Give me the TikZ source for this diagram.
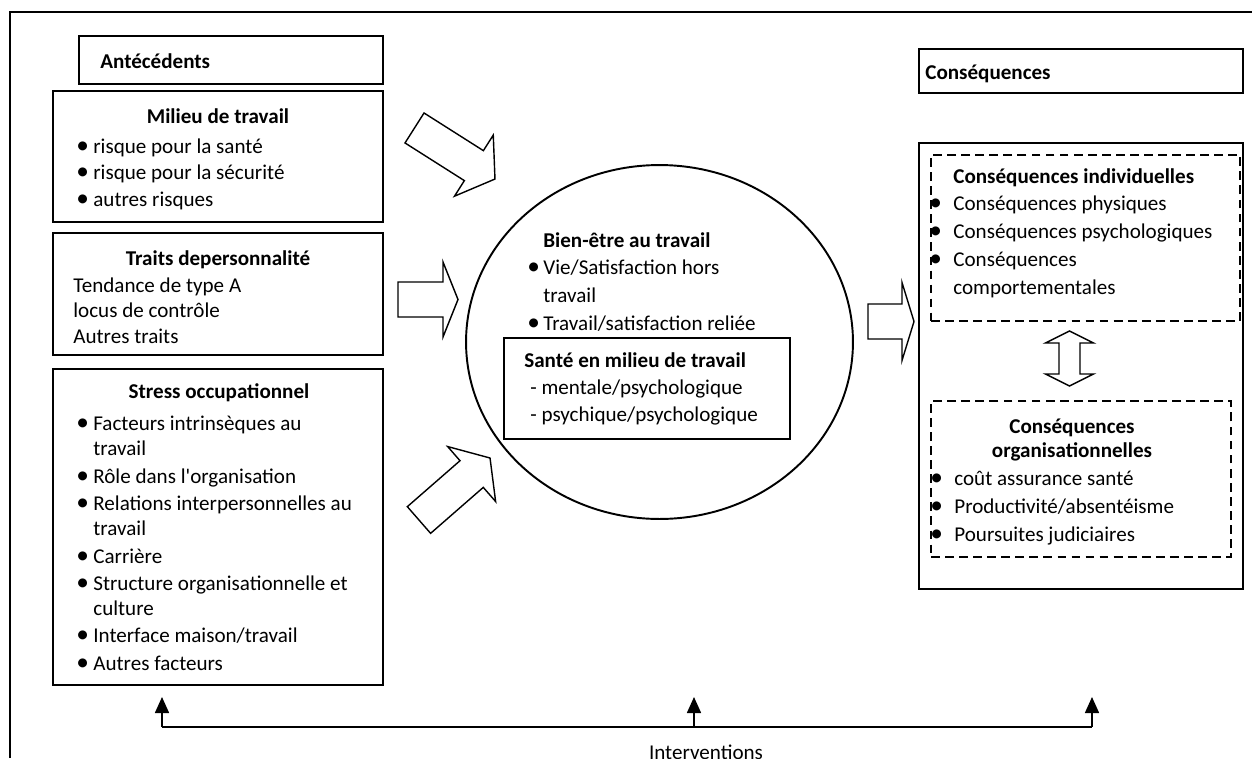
\documentclass[tikz,border=0pt]{standalone}
\usepackage{fontspec}
\setmainfont{Carlito}[Ligatures=TeXOff]
\usetikzlibrary{arrows.meta, fit, shapes.geometric}

\newcommand{\blt}{\makebox[0.34cm][l]{\scalebox{1.2}{\textbullet}}}
\newcommand{\bltr}{\makebox[0.48cm][l]{\scalebox{1.2}{\textbullet}}}

\begin{document}
\begin{tikzpicture}[
    x=0.02cm,
    y=-0.02cm,
    font=\fontsize{12}{14.5}\selectfont,
    box/.style={
      draw,
      line width=1.1pt,
      inner sep=0pt
    },
    dashbox/.style={
      draw,
      line width=0.9pt,
      dash pattern=on 5pt off 3pt,
      inner sep=0pt
    },
    title/.style={
      font=\fontsize{12}{14.5}\selectfont\bfseries,
      inner sep=0pt,
      anchor=base
    },
    txt/.style={
      inner sep=0pt,
      align=left,
      anchor=north west,
      yshift=10.15pt
    },
    bigarrow/.style={
      draw,
      line width=0.8pt,
      fill=white,
      line join=miter
    },
    pics/blockarrow/.style args={#1/#2/#3/#4}{
      code={
        \draw[bigarrow] ({-#1/2},{-#2/2}) -- ({#1/2-#4},{-#2/2})
          -- ({#1/2-#4},{-#3/2}) -- ({#1/2},0) -- ({#1/2-#4},{#3/2})
          -- ({#1/2-#4},{#2/2}) -- ({-#1/2},{#2/2}) -- cycle;
      }
    },
    pics/twoway/.style args={#1/#2/#3/#4}{
      code={
        \draw[bigarrow] ({-#1/2},0) -- ({-#1/2+#4},{#3/2}) -- ({-#1/2+#4},{#2/2})
          -- ({#1/2-#4},{#2/2}) -- ({#1/2-#4},{#3/2}) -- ({#1/2},0)
          -- ({#1/2-#4},{-#3/2}) -- ({#1/2-#4},{-#2/2}) -- ({-#1/2+#4},{-#2/2})
          -- ({-#1/2+#4},{-#3/2}) -- cycle;
      }
    },
    ivline/.style={
      line width=1.1pt
    },
    ivarrow/.style={
      -{Triangle[length=0.32cm, width=0.28cm]},
      line width=0.9pt
    }
  ]

    \useasboundingbox (0,0) rectangle (1252,758);

    % cadre
    \draw[line width=1.1pt] (10,758) |- (1252,12);

    % Antecedents
    \node[box, fit={(79,36) (383,84)}] (ante) {};
    \node[title, anchor=base west] (anteT) at (100,68) {Antécédents};

    \node[box, fit={(53,91) (383,222)}] (milieu) {};
    \node[title] (milieuT) at (218,123) {Milieu de travail};
    \node[txt] (milieuL) at (76,153) {\strut\blt risque pour la santé\\[0.5pt]
      \blt risque pour la sécurité\\[0.5pt]
      \blt autres risques};

    \node[box, fit={(53,233) (383,355)}] (traits) {};
    \node[title] (traitsT) at (218,265) {Traits depersonnalité};
    \node[txt] (traitsL) at (73,292) {\strut Tendance de type A\\
      locus de contrôle\\
      Autres traits};

    \node[box, fit={(53,369) (383,685)}] (stress) {};
    \node[title] (stressT) at (219,398) {Stress occupationnel};
    \node[txt] (stressL) at (76,430) {\strut\blt Facteurs intrinsèques au\\
      \hspace*{0.34cm}travail\\[1pt]
      \blt Rôle dans l'organisation\\[1pt]
      \blt Relations interpersonnelles au\\
      \hspace*{0.34cm}travail\\[1pt]
      \blt Carrière\\[1pt]
      \blt Structure organisationnelle et\\
      \hspace*{0.34cm}culture\\[1pt]
      \blt Interface maison/travail\\[1pt]
      \blt Autres facteurs};

    % fleches vers le bien-etre
    \pic[rotate=-32.4] (arrMilieu) at (454.75,153.5) {blockarrow={95.3/35.5/72.4/25}};
    \pic (arrTraits) at (428,299.5) {blockarrow={60/35/75/15}};
    \pic[rotate=41.1] (arrStress) at (454.5,489) {blockarrow={94.3/35.4/73/24.4}};

    % Bien-etre
    \node[ellipse, draw, line width=1.1pt, minimum width=7.74cm,
      minimum height=7.08cm, inner sep=0pt] (bien) at (659.5,342) {};
    \node[title, anchor=base west] (bienT) at (543,247) {Bien-être au travail};
    \node[txt] (bienL) at (527,274) {\strut\makebox[0.32cm][l]{\scalebox{1.2}{\textbullet}}Vie/Satisfaction hors\\[1.4pt]
      \hspace*{0.32cm}travail\\[1.4pt]
      \makebox[0.32cm][l]{\scalebox{1.2}{\textbullet}}Travail/satisfaction reliée};

    \node[box, fit={(504,338) (790,439)}] (sante) {};
    \node[title, anchor=base west] (santeT) at (524,367) {Santé en milieu de travail};
    \node[txt] (santeL) at (530,394) {\strut - mentale/psychologique\\[1pt]
      - psychique/psychologique};

    \pic (arrCons) at (891,321.5) {blockarrow={46/35/78/12}};

    % Consequences
    \node[box, fit={(919,49) (1243,93)}] (cons) {};
    \node[title, anchor=base west] (consT) at (925,79) {Conséquences};

    \node[box, fit={(919,143) (1243,589)}] (consbox) {};
    \node[dashbox, fit={(931,155) (1240,321)}] (indiv) {};
    \node[title, anchor=base west] (indivT) at (953,183) {Conséquences individuelles};
    \node[txt] (indivL) at (929,210) {\strut\bltr Conséquences physiques\\[1.4pt]
      \bltr Conséquences psychologiques\\[1.4pt]
      \bltr Conséquences\\[1.4pt]
      \hspace*{0.48cm}comportementales};

    \pic[rotate=90] (arrLien) at (1069.5,358.5) {twoway={55/21/48/12}};

    \node[dashbox, fit={(931,401) (1231,557)}] (orga) {};
    \node[title, align=center, anchor=north, yshift=10.15pt] (orgaT) at (1072,433)
      {\strut Conséquences\\[-0.9pt] organisationnelles};
    \node[txt] (orgaL) at (930,485) {\strut\bltr coût assurance santé\\[1.4pt]
      \bltr Productivité/absentéisme\\[1.4pt]
      \bltr Poursuites judiciaires};

    % Interventions
    \foreach \n/\x in {L/162, M/694, R/1092} {
      \coordinate (iv\n) at (\x,727);
      \coordinate (iv\n t) at (\x,697);
      \draw[ivarrow] (iv\n) -- (iv\n t);
    }
    \coordinate (gapL) at (616,727);
    \coordinate (gapR) at (800,727);
    \draw[ivline] (ivL) -- (gapL);
    \draw[line width=0.6pt] (gapL) -- (gapR);
    \draw[ivline] (gapR) -- (ivR);
    \node[inner sep=0pt, anchor=base] (ivtext) at (706,759) {Interventions};

  \end{tikzpicture}
\end{document}
